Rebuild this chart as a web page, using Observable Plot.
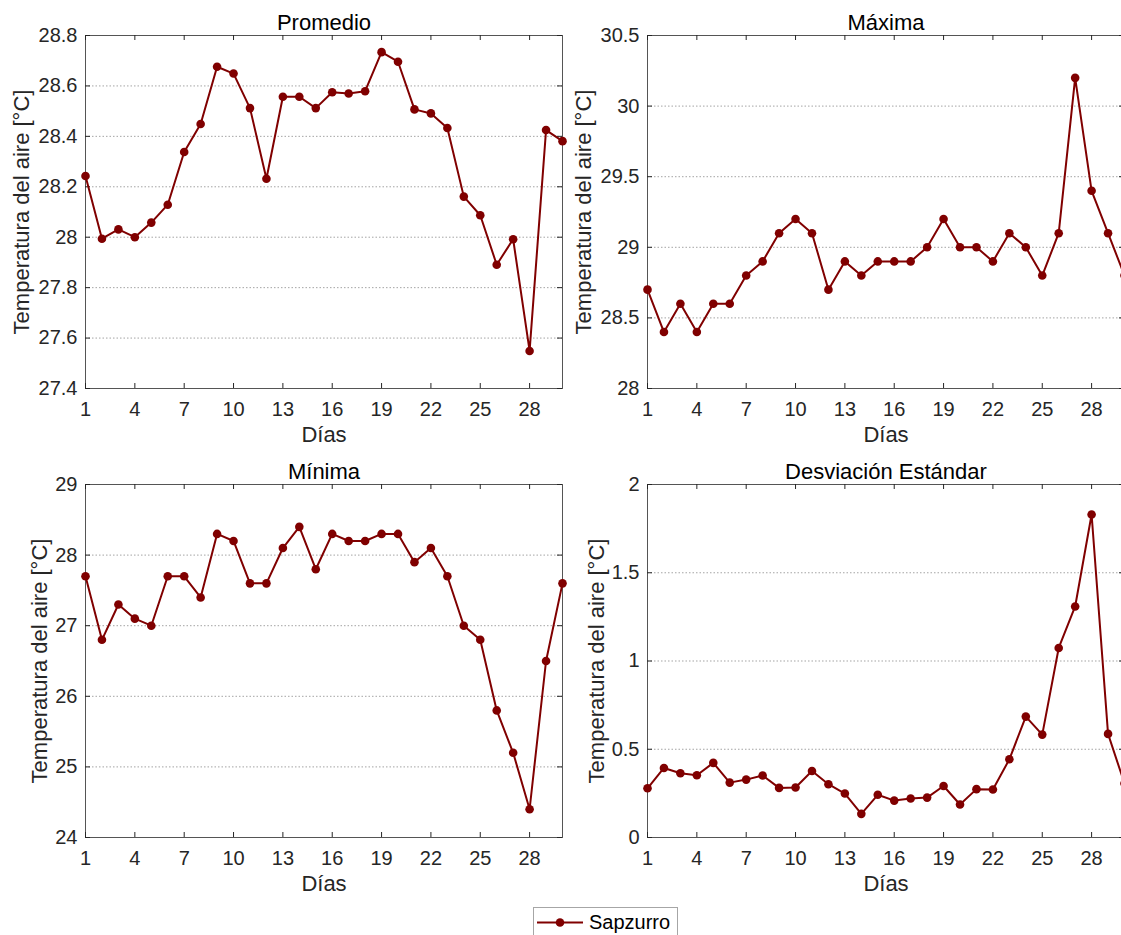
<!DOCTYPE html>
<html>
<head>
<meta charset="utf-8">
<script src="https://cdn.jsdelivr.net/npm/d3@7"></script>
<script src="https://cdn.jsdelivr.net/npm/@observablehq/plot@0.6"></script>
<style>
  html, body { margin: 0; padding: 0; background: #fff; overflow: hidden; }
  #wrap { position: relative; width: 1121px; height: 935px; overflow: hidden; background: #fff;
          font-family: "Liberation Sans", Arial, Helvetica, sans-serif; color: #262626; }
  .panel { position: absolute; width: 575px; height: 450px; }
  .panel svg { overflow: visible; max-width: none !important; height: 450px !important; width: 575px !important; }
  #legend { position: absolute; left: 533px; top: 907px; }
</style>
</head>
<body>
<div id="wrap"></div>
<script>
// ---- Data ----
const days = [1,2,3,4,5,6,7,8,9,10,11,12,13,14,15,16,17,18,19,20,21,22,23,24,25,26,27,28,29,30];
const dayTicks = [1,4,7,10,13,16,19,22,25,28];

const promedio = [28.243,27.994,28.031,28.000,28.058,28.129,28.338,28.449,28.676,28.649,
                  28.512,28.232,28.557,28.557,28.512,28.575,28.570,28.579,28.734,28.696,
                  28.507,28.491,28.433,28.161,28.087,27.891,27.992,27.549,28.425,28.381];
const maxima   = [28.7,28.4,28.6,28.4,28.6,28.6,28.8,28.9,29.1,29.2,
                  29.1,28.7,28.9,28.8,28.9,28.9,28.9,29.0,29.2,29.0,
                  29.0,28.9,29.1,29.0,28.8,29.1,30.2,29.4,29.1,28.8];
const minima   = [27.7,26.8,27.3,27.1,27.0,27.7,27.7,27.4,28.3,28.2,
                  27.6,27.6,28.1,28.4,27.8,28.3,28.2,28.2,28.3,28.3,
                  27.9,28.1,27.7,27.0,26.8,25.8,25.2,24.4,26.5,27.6];
const desviacion = [0.279,0.394,0.364,0.353,0.423,0.311,0.328,0.351,0.281,0.283,
                    0.377,0.302,0.249,0.134,0.242,0.209,0.221,0.226,0.292,0.187,
                    0.274,0.272,0.443,0.685,0.583,1.074,1.309,1.830,0.587,0.306];

const promedioTicks = [27.4,27.6,27.8,28,28.2,28.4,28.6,28.8];
const maximaTicks = [28,28.5,29,29.5,30,30.5];
const minimaTicks = [24,25,26,27,28,29];
const desviacionTicks = [0,0.5,1,1.5,2];

const titles = ["Promedio","Máxima","Mínima","Desviación Estándar"];
const xLabel = "Días";
const yLabel = "Temperatura del aire [°C]";
const seriesName = "Sapzurro";

// ---- Layout ----
const lineColor = "#800000";
const axisColor = "#262626";
const fontFamily = '"Liberation Sans", Arial, Helvetica, sans-serif';

const panels = [
  {title: titles[0], values: promedio,   domain: [27.4, 28.8], ticks: promedioTicks,   left: 0,   top: 0,   ml: 85, mt: 35, ylabDx: -57},
  {title: titles[1], values: maxima,     domain: [28, 30.5],   ticks: maximaTicks,     left: 560, top: 0,   ml: 87, mt: 35, ylabDx: -57},
  {title: titles[2], values: minima,     domain: [24, 29],     ticks: minimaTicks,     left: 0,   top: 450, ml: 85, mt: 34, ylabDx: -39},
  {title: titles[3], values: desviacion, domain: [0, 2],       ticks: desviacionTicks, left: 560, top: 450, ml: 87, mt: 34, ylabDx: -44}
];

const innerW = 477, innerH = 353, svgW = 575, svgH = 450;
const wrap = document.getElementById("wrap");

for (const p of panels) {
  const data = days.map((d, i) => ({day: d, v: p.values[i]}));
  const mb = svgH - p.mt - innerH;
  const mr = svgW - p.ml - innerW;
  const chart = Plot.plot({
    width: svgW,
    height: svgH,
    marginLeft: p.ml,
    marginRight: mr,
    marginTop: p.mt,
    marginBottom: mb,
    style: {fontFamily, color: axisColor, background: "transparent", overflow: "visible", maxWidth: "none"},
    x: {domain: [1, 30]},
    y: {domain: p.domain},
    marks: [
      Plot.gridY(p.ticks, {stroke: "#9a9a9a", strokeOpacity: 0.9, strokeDasharray: "1.5,2"}),
      Plot.frame({stroke: "#555"}),
      Plot.tickX(dayTicks, {x: d => d, insetTop: innerH - 5, stroke: axisColor}),
      Plot.tickX(dayTicks, {x: d => d, insetBottom: innerH - 5, stroke: axisColor}),
      Plot.tickY(p.ticks, {y: d => d, insetRight: innerW - 5, stroke: axisColor}),
      Plot.tickY(p.ticks, {y: d => d, insetLeft: innerW - 5, stroke: axisColor}),
      Plot.axisX(dayTicks, {tickSize: 0, tickPadding: 13, fontSize: 20, label: null, fill: axisColor}),
      Plot.axisY(p.ticks, {tickSize: 0, tickPadding: 8, fontSize: 20, label: null, fill: axisColor,
                           tickFormat: d => String(+d.toFixed(2))}),
      Plot.line(data, {x: "day", y: "v", stroke: lineColor, strokeWidth: 2}),
      Plot.dot(data, {x: "day", y: "v", fill: lineColor, r: 4.3}),
      Plot.text([p.title], {text: d => d, frameAnchor: "top", textAnchor: "middle", lineAnchor: "bottom", dy: -6, fontSize: 22, fill: "#000"}),
      Plot.text([xLabel], {text: d => d, frameAnchor: "bottom", textAnchor: "middle", lineAnchor: "bottom", dy: 53, fontSize: 22, fill: axisColor}),
      Plot.text([yLabel], {text: d => d, frameAnchor: "left", textAnchor: "middle", lineAnchor: "bottom", rotate: -90, dx: p.ylabDx, fontSize: 22, fill: axisColor})
    ]
  });
  const div = document.createElement("div");
  div.className = "panel";
  div.style.left = p.left + "px";
  div.style.top = p.top + "px";
  div.appendChild(chart);
  wrap.appendChild(div);
}

// ---- Legend ----
const ns = "http://www.w3.org/2000/svg";
const leg = document.createElementNS(ns, "svg");
leg.setAttribute("id", "legend");
leg.setAttribute("width", "146");
leg.setAttribute("height", "40");
leg.innerHTML = `
  <rect x="0.5" y="0.5" width="144" height="38" fill="#fff" stroke="#a6a6a6" stroke-width="1"/>
  <line x1="4" x2="50" y1="15.5" y2="15.5" stroke="${lineColor}" stroke-width="2"/>
  <circle cx="27" cy="15.5" r="4.3" fill="${lineColor}"/>
  <text x="56" y="21.5" font-size="20" font-family='${fontFamily}' fill="#000">${seriesName}</text>`;
wrap.appendChild(leg);
</script>
</body>
</html>
